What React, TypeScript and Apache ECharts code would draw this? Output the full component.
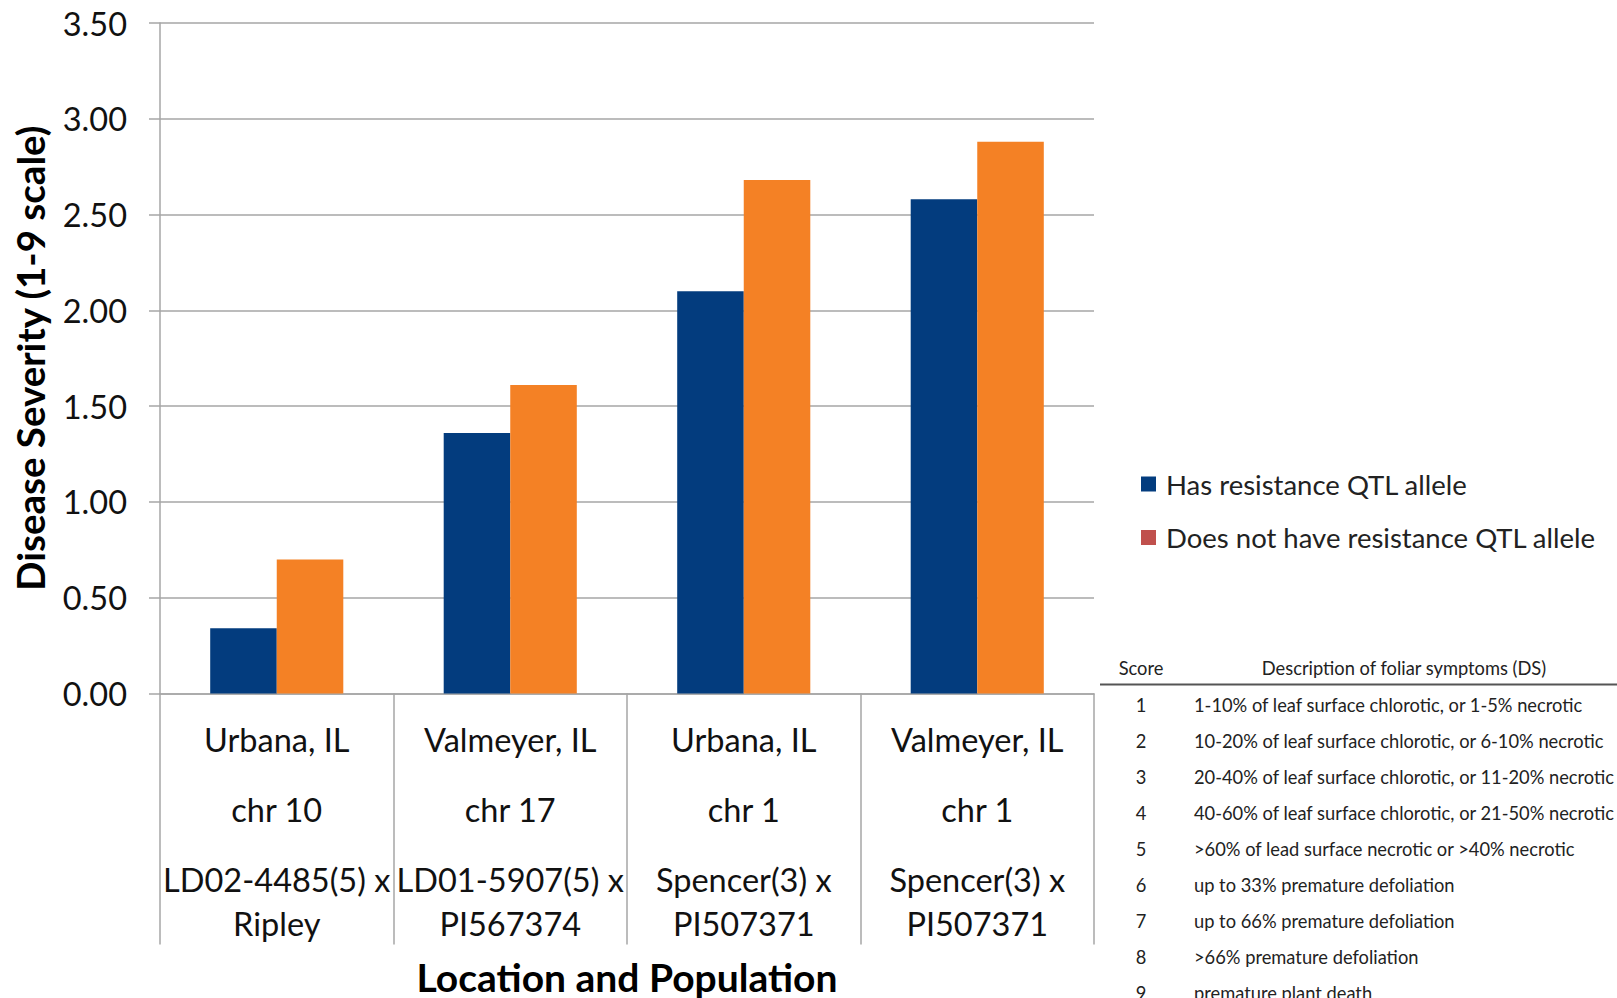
import React, { useEffect, useRef } from "react";
import * as echarts from "echarts";

// Location / chromosome / population lines for each bar group
const locations = ["Urbana, IL", "Valmeyer, IL", "Urbana, IL", "Valmeyer, IL"];
const chromosomes = ["chr 10", "chr 17", "chr 1", "chr 1"];
const crossFirst = ["LD02-4485(5) x", "LD01-5907(5) x", "Spencer(3) x", "Spencer(3) x"];
const crossSecond = ["Ripley", "PI567374", "PI507371", "PI507371"];

const seriesNames = ["Has resistance QTL allele", "Does not have resistance QTL allele"];
const withAllele = [0.34, 1.36, 2.1, 2.58];
const withoutAllele = [0.7, 1.61, 2.68, 2.88];

const yTicks = { min: 0, max: 3.5, interval: 0.5 };

// Disease severity scoring key
const tableHeader = ["Score", "Description of foliar symptoms (DS)"];
const scores = ["1", "2", "3", "4", "5", "6", "7", "8", "9"];
const descriptions = [
  "1-10% of leaf surface chlorotic, or 1-5% necrotic",
  "10-20% of leaf surface chlorotic, or 6-10% necrotic",
  "20-40% of leaf surface chlorotic, or 11-20% necrotic",
  "40-60% of leaf surface chlorotic, or 21-50% necrotic",
  ">60% of lead surface necrotic or >40% necrotic",
  "up to 33% premature defoliation",
  "up to 66% premature defoliation",
  ">66% premature defoliation",
  "premature plant death",
];

const BLUE = "#033c7e";
const ORANGE = "#f48125";
const LEGEND_RED = "#c0504d";
const GRID_GRAY = "#a6a6a6";
const FONT = "Lato, 'Open Sans', sans-serif";
const TABLE_FONT = `18.3px ${FONT}`;

const categories = locations.map(
  (loc, i) => `${loc}\n${chromosomes[i]}\n${crossFirst[i]}\n${crossSecond[i]}`
);

export default function App() {
  const ref = useRef<HTMLDivElement>(null);

  useEffect(() => {
    if (!ref.current) return;
    const chart = echarts.init(ref.current, undefined, { renderer: "svg" });

    const tableTop = 668;
    const rowStep = 36.1;
    const tableTexts: any[] = [
      {
        type: "text",
        x: 1141,
        y: tableTop,
        style: { text: tableHeader[0], font: TABLE_FONT, fill: "#222", align: "center", verticalAlign: "middle" },
      },
      {
        type: "text",
        x: 1404,
        y: tableTop,
        style: { text: tableHeader[1], font: TABLE_FONT, fill: "#222", align: "center", verticalAlign: "middle" },
      },
      {
        type: "line",
        shape: { x1: 1100, y1: 684.5, x2: 1617, y2: 684.5 },
        style: { stroke: "#555", lineWidth: 2 },
      },
    ];
    scores.forEach((s, i) => {
      const y = tableTop + 36.5 + i * rowStep;
      tableTexts.push({
        type: "text",
        x: 1141,
        y,
        style: { text: s, font: TABLE_FONT, fill: "#222", align: "center", verticalAlign: "middle" },
      });
      tableTexts.push({
        type: "text",
        x: 1194,
        y,
        style: { text: descriptions[i], font: TABLE_FONT, fill: "#222", align: "left", verticalAlign: "middle" },
      });
    });

    chart.setOption({
      animation: false,
      backgroundColor: "#ffffff",
      textStyle: { fontFamily: FONT },
      grid: {
        left: 160,
        right: 523,
        top: 23,
        bottom: 304.5,
        containLabel: false,
        outerBoundsMode: "none",
      },
      legend: {
        orient: "vertical",
        left: 1136,
        top: 464,
        itemWidth: 15,
        itemHeight: 15,
        itemGap: 23.5,
        icon: "rect",
        textStyle: { fontSize: 27.5, color: "#222", fontFamily: FONT, lineHeight: 30, padding: [0, 0, 0, 5] },
        data: [
          { name: seriesNames[0], itemStyle: { color: BLUE } },
          { name: seriesNames[1], itemStyle: { color: LEGEND_RED } },
        ],
      },
      xAxis: {
        type: "category",
        data: categories,
        name: "Location and Population",
        nameLocation: "middle",
        nameGap: 265,
        nameTextStyle: { fontSize: 39, lineHeight: 36, fontWeight: "bold", color: "#000", fontFamily: FONT },
        axisLine: { show: true, lineStyle: { color: GRID_GRAY, width: 1.5 } },
        axisTick: { show: true, interval: 0, length: 251, lineStyle: { color: GRID_GRAY, width: 1.5 } },
        axisLabel: {
          interval: 0,
          margin: 11,
          color: "#111",
          formatter: (v: string) => {
            const [a, b, c, d] = v.split("\n");
            return `{l1|${a}}\n{l2|${b}}\n{l3|${c}}\n{l4|${d}}`;
          },
          rich: {
            l1: { fontSize: 32.5, lineHeight: 70, fontFamily: FONT, color: "#111" },
            l2: { fontSize: 32.5, lineHeight: 70, fontFamily: FONT, color: "#111" },
            l3: { fontSize: 32.5, lineHeight: 70, fontFamily: FONT, color: "#111" },
            l4: { fontSize: 32.5, lineHeight: 18, fontFamily: FONT, color: "#111" },
          },
        },
      },
      yAxis: {
        type: "value",
        min: yTicks.min,
        max: yTicks.max,
        interval: yTicks.interval,
        name: "Disease Severity (1-9 scale)",
        nameLocation: "middle",
        nameGap: 111,
        nameRotate: 90,
        nameTextStyle: { fontSize: 38.5, fontWeight: "bold", color: "#000", fontFamily: FONT },
        axisLine: { show: true, lineStyle: { color: GRID_GRAY, width: 1.5 } },
        axisTick: { show: true, length: 11, lineStyle: { color: GRID_GRAY, width: 1.5 } },
        axisLabel: {
          margin: 33,
          fontSize: 32.5,
          color: "#111",
          fontFamily: FONT,
          formatter: (v: number) => v.toFixed(2),
        },
        splitLine: { show: true, lineStyle: { color: GRID_GRAY, width: 1.5 } },
      },
      series: [
        {
          name: seriesNames[0],
          type: "bar",
          data: withAllele,
          barGap: "0%",
          barCategoryGap: "43%",
          itemStyle: { color: BLUE },
        },
        {
          name: seriesNames[1],
          type: "bar",
          data: withoutAllele,
          barGap: "0%",
          barCategoryGap: "43%",
          itemStyle: { color: ORANGE },
        },
      ],
      graphic: tableTexts,
    });

    return () => chart.dispose();
  }, []);

  return (
    <div
      ref={ref}
      style={{ position: "fixed", left: 0, top: 0, width: 1617, height: 998, background: "#fff" }}
    />
  );
}
